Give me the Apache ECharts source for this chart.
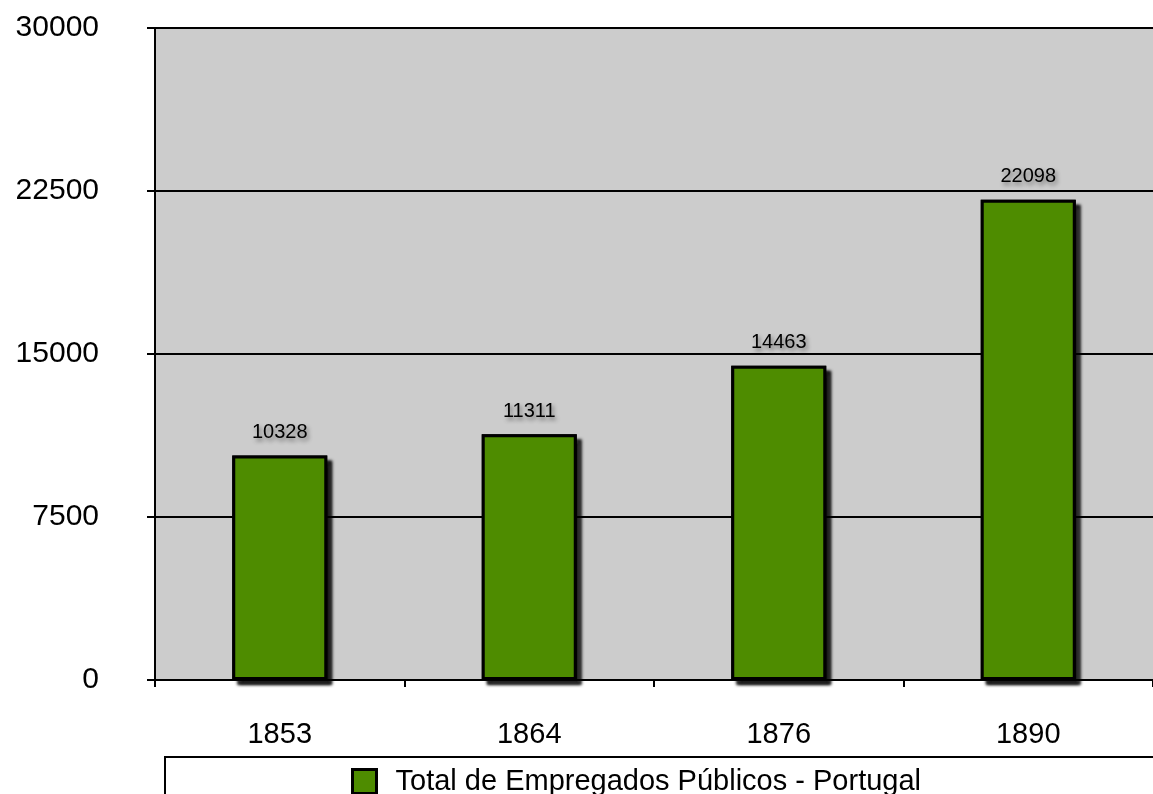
<!DOCTYPE html>
<html>
<head>
<meta charset="utf-8">
<script src="https://cdn.jsdelivr.net/npm/echarts@6/dist/echarts.min.js"></script>
<style>
  html, body { margin: 0; padding: 0; background: #fff; }
  #chart { width: 1153px; height: 794px; }
</style>
</head>
<body>
<div id="chart"></div>
<script>
var years = ['1853', '1864', '1876', '1890'];
var empregados = [10328, 11311, 14463, 22098];
var seriesName = 'Total de Empregados Públicos - Portugal';

var font = '"Liberation Sans", Arial, Helvetica, sans-serif';

var chart = echarts.init(document.getElementById('chart'));
var option = {
	animation: false,
	backgroundColor: '#ffffff',
	textStyle: { fontFamily: font },
	grid: {
		left: 155, right: 0, top: 28, bottom: 114,
		show: true, backgroundColor: '#cccccc', borderWidth: 0
	},
	legend: {
		left: 346, top: 762,
		itemWidth: 24, itemHeight: 24, itemGap: 10,
		icon: 'rect',
		itemStyle: { color: '#4e8c00', borderColor: '#000', borderWidth: 3, shadowBlur: 0, shadowOffsetX: 0, shadowOffsetY: 0 },
		textStyle: { fontSize: 29, color: '#000', fontFamily: font, padding: [0, 0, 0, 14] },
		data: [seriesName]
	},
	graphic: [{
		type: 'rect',
		shape: { x: 165, y: 757, width: 1100, height: 100 },
		style: { fill: 'none', stroke: '#000', lineWidth: 2 },
		z: 1
	}],
	xAxis: {
		type: 'category',
		data: years,
		boundaryGap: true,
		axisLine: { lineStyle: { color: '#000', width: 2 } },
		axisTick: { show: true, length: 7, lineStyle: { color: '#000', width: 2 } },
		axisLabel: { color: '#000', fontSize: 29, margin: 40, fontFamily: font }
	},
	yAxis: {
		type: 'value',
		min: 0, max: 30000, interval: 7500,
		axisLine: { show: true, lineStyle: { color: '#000', width: 2 } },
		axisTick: { show: true, length: 8, lineStyle: { color: '#000', width: 2 } },
		splitLine: { lineStyle: { color: '#000', width: 2 } },
		axisLabel: {
			color: '#000', fontSize: 30, margin: 56, fontFamily: font,
			formatter: function(v) { return String(v); }
		}
	},
	series: [{
		// shadow underneath the bars
		name: '_sombra',
		type: 'bar',
		data: empregados,
		barWidth: 95,
		silent: true,
		itemStyle: {
			color: '#000',
			borderColor: '#000',
			borderWidth: 3,
			shadowColor: 'rgba(0,0,0,0.9)',
			shadowBlur: 3,
			shadowOffsetX: 5,
			shadowOffsetY: 5
		}
	}, {
		name: seriesName,
		type: 'bar',
		data: empregados,
		barWidth: 95,
		barGap: '-100%',
		itemStyle: {
			color: '#4e8c00',
			borderColor: '#000',
			borderWidth: 3
		},
		label: {
			show: true,
			position: 'top',
			distance: 13,
			color: '#000',
			fontSize: 20,
			fontFamily: font,
			textShadowColor: 'rgba(0,0,0,0.45)',
			textShadowBlur: 4,
			textShadowOffsetX: 2,
			textShadowOffsetY: 3
		}
	}]
};
chart.setOption(option);
</script>
</body>
</html>
